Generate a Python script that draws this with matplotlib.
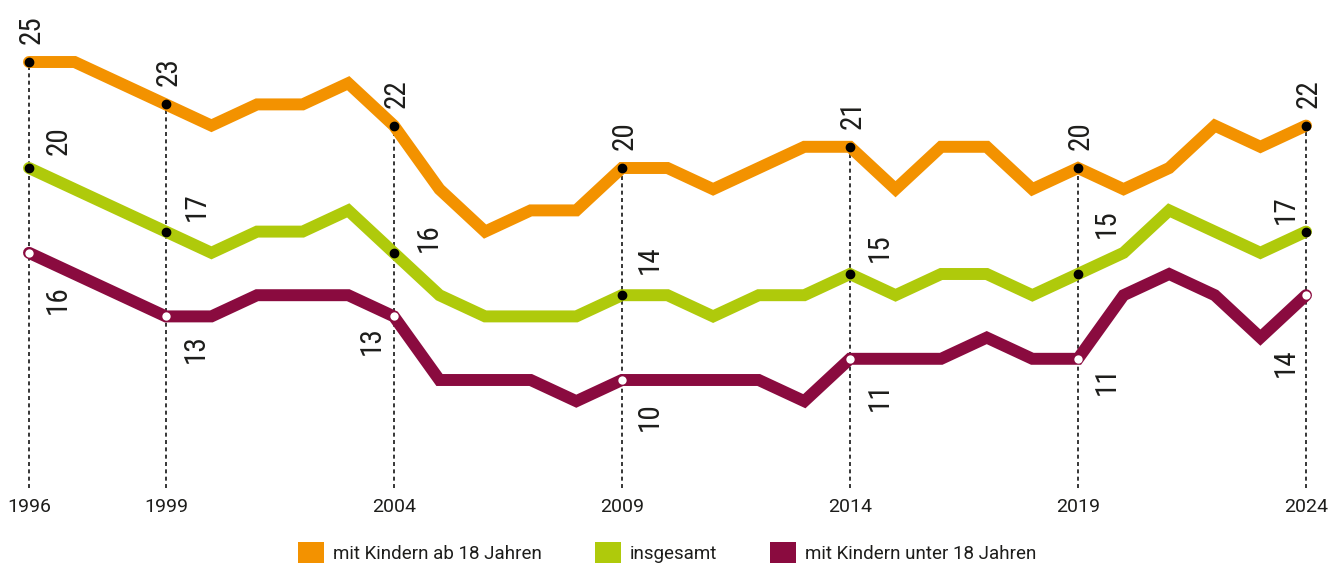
import matplotlib
matplotlib.use("Agg")
import matplotlib.pyplot as plt
from matplotlib.patches import Patch
from matplotlib import font_manager

# ---------------- data ----------------
years = list(range(1996, 2025))
ab18 = [25, 25, 24, 23, 22, 23, 23, 24, 22, 19, 17, 18, 18, 20, 20, 19, 20, 21, 21, 19,
        21, 21, 19, 20, 19, 20, 22, 21, 22]
insgesamt = [20, 19, 18, 17, 16, 17, 17, 18, 16, 14, 13, 13, 13, 14, 14, 13, 14, 14, 15, 14,
             15, 15, 14, 15, 16, 18, 17, 16, 17]
unter18 = [16, 15, 14, 13, 13, 14, 14, 14, 13, 10, 10, 10, 9, 10, 10, 10, 10, 9, 11, 11,
           11, 12, 11, 11, 14, 15, 14, 12, 14]
label_years = [1996, 1999, 2004, 2009, 2014, 2019, 2024]
series_names = ["mit Kindern ab 18 Jahren", "insgesamt", "mit Kindern unter 18 Jahren"]

# ---------------- styles ----------------
c_orange = "#F39200"
c_green = "#AFCA0B"
c_maroon = "#8A0B3F"
txt = "#1d1d1b"

avail = {f.name for f in font_manager.fontManager.ttflist}
def pick(*names):
    for n in names:
        if n in avail:
            return n
    return "DejaVu Sans"
narrow_font = pick("Liberation Sans Narrow", "Roboto Condensed", "Open Sans Condensed", "Roboto")
reg_font = pick("Roboto", "Open Sans", "Lato", "DejaVu Sans")
val_size = 21 if narrow_font != "Roboto" else 19

# label offsets in pixels (dx of digit centre, dy gap)
green_off = [(27, 13), (28, 11), (32, 1), (25, 21), (27, 12), (26, 36), (-23, 8)]
maroon_off = [(26, 32), (27, 18), (-25, 10), (25, 22), (27, 23), (26, 7), (-23, 53)]

W, H = 1339, 563
fig = plt.figure(figsize=(W / 100, H / 100), dpi=100)
ax_bottom_px = 488
ax = fig.add_axes([0, 1 - ax_bottom_px / H, 1, ax_bottom_px / H])
ppy = (1306 - 29) / 28
ppu = 21.2
ax.set_xlim(1996 - 29 / ppy, 2024 + (W - 1306) / ppy)
ylo = 25 - (ax_bottom_px - 62) / ppu
ax.set_ylim(ylo, 25 + 62 / ppu)
for s in ax.spines.values():
    s.set_visible(False)
ax.set_yticks([])
ax.set_xticks(label_years)
ax.set_xticklabels([str(y) for y in label_years], fontsize=14, family=reg_font, color=txt)
ax.tick_params(axis="x", length=0, pad=7)

# dashed guides
for y in label_years:
    v = ab18[years.index(y)]
    ax.vlines(y, ylo, v, colors="black", linestyles=(0, (2.6, 2.2)), linewidth=1.1, zorder=1)

lw = 8.6
for vals, col in [(unter18, c_maroon), (insgesamt, c_green), (ab18, c_orange)]:
    ax.plot(years, vals, color=col, linewidth=lw, solid_joinstyle="miter",
            solid_capstyle="round", zorder=2)

idx = [years.index(y) for y in label_years]
ax.plot(label_years, [ab18[i] for i in idx], "o", color="black", markersize=6, zorder=3)
ax.plot(label_years, [insgesamt[i] for i in idx], "o", color="black", markersize=6, zorder=3)
ax.plot(label_years, [unter18[i] for i in idx], "o", color="white", markersize=6,
        markeredgewidth=0, zorder=3)

desc = 3
kw = dict(textcoords="offset pixels", rotation=90, ha="center", fontsize=val_size,
          family=narrow_font, color=txt, zorder=4)
for k, i in enumerate(idx):
    y = label_years[k]
    ax.annotate(str(ab18[i]), (y, ab18[i]), xytext=(desc, 18), va="bottom", **kw)
    dx, dy = green_off[k]
    ax.annotate(str(insgesamt[i]), (y, insgesamt[i]), xytext=(dx + desc, dy), va="bottom", **kw)
    dx, dy = maroon_off[k]
    ax.annotate(str(unter18[i]), (y, unter18[i]), xytext=(dx + desc, -dy), va="top", **kw)

fs = 13.5
fpx = fs * 100 / 72
handles = [Patch(facecolor=c, edgecolor="none", label=n)
           for c, n in zip([c_orange, c_green, c_maroon], series_names)]
fig.legend(handles=handles, loc="center", bbox_to_anchor=(667.5 / W, 1 - 553 / H), ncol=3,
           frameon=False, fontsize=fs, prop={"family": reg_font, "size": fs},
           handlelength=26 / fpx, handleheight=26 / fpx, handletextpad=9 / fpx,
           columnspacing=53 / fpx, borderaxespad=0, borderpad=0, labelcolor=txt)

fig.savefig("out.png", dpi=100)
